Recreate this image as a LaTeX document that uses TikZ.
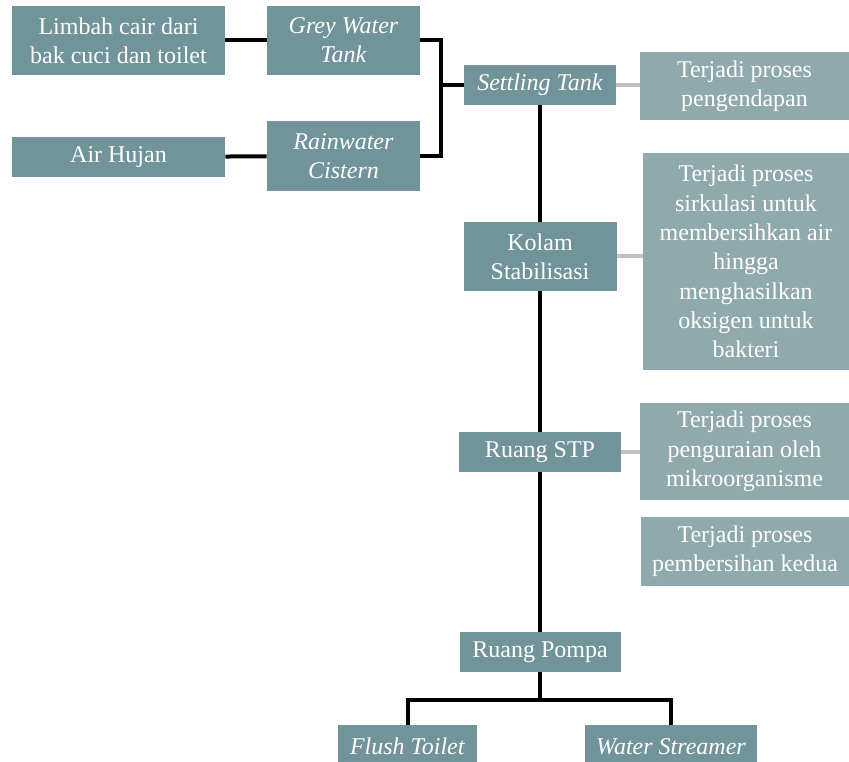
\documentclass[tikz,border=0pt]{standalone}
\usepackage{fontspec}
\setmainfont{Liberation Serif}
\usepackage{xcolor}
\usepackage{tikz}
\usetikzlibrary{positioning,calc}
\definecolor{boxteal}{HTML}{71939A}
\definecolor{noteteal}{HTML}{8FA9AD}
\definecolor{linkgrey}{HTML}{C0C0C0}

\begin{document}
\begin{tikzpicture}[x=0.75pt,y=-0.75pt,
  box/.style={fill=boxteal, text=white, inner sep=0pt, align=center, font=\fontsize{18}{22}\selectfont},
  note/.style={fill=noteteal, text=white, inner sep=0pt, align=center, font=\fontsize{18}{22}\selectfont},
  pipe/.style={line width=3pt, black},
  side/.style={line width=3pt, linkgrey}]
\useasboundingbox (0,0) rectangle (849,762);
% sumber air
\node[box, minimum width=159.75pt, minimum height=51.75pt] (limbah) at (118.5,40.5) {Limbah cair dari\\bak cuci dan toilet};
\node[box, minimum width=114.75pt, minimum height=51.75pt] (grey) at (343.5,40.5) {\textit{Grey Water}\\\textit{Tank}};
\node[box, minimum width=159.75pt, minimum height=30pt] (hujan) at (118.5,157) {Air Hujan};
\node[box, minimum width=114.75pt, minimum height=52.5pt] (rain) at (343.5,156) {\textit{Rainwater}\\\textit{Cistern}};
% jalur utama
\node[box, minimum width=114pt, minimum height=30pt] (settling) at (540,85) {\textit{Settling Tank}};
\node[box, minimum width=114.75pt, minimum height=51.75pt] (kolam) at (540,256.5) {Kolam\\Stabilisasi};
\node[box, minimum width=121.5pt, minimum height=30pt] (stp) at (540,452) {Ruang STP};
\node[box, minimum width=120.75pt, minimum height=30pt] (pompa) at (540,652) {Ruang Pompa};
\node[box, minimum width=104.25pt, minimum height=32.25pt] (flush) at (407.5,746.5) {\textit{Flush Toilet}};
\node[box, minimum width=129pt, minimum height=32.25pt] (streamer) at (671,746.5) {\textit{Water Streamer}};
% keterangan
\node[note, minimum width=156.75pt, minimum height=51pt] (ket1) at (744.5,86) {Terjadi proses\\pengendapan};
\node[note, minimum width=154.5pt, minimum height=162.75pt] (ket2) at (746,261.5) {Terjadi proses\\sirkulasi untuk\\membersihkan air\\hingga\\menghasilkan\\oksigen untuk\\bakteri};
\node[note, minimum width=156.75pt, minimum height=72.75pt] (ket3) at (744.5,451.5) {Terjadi proses\\penguraian oleh\\mikroorganisme};
\node[note, minimum width=156pt, minimum height=51.75pt] (ket4) at (745,551.5) {Terjadi proses\\pembersihan kedua};
\coordinate (join) at (441,85);
\coordinate (split) at (540,700);
\draw[pipe] (limbah) -- (grey);
\draw[pipe] (hujan) -- (rain);
\draw[pipe] (grey.east) -| (join);
\draw[pipe] (rain.east) -| (join);
\draw[pipe] (join) -- (settling);
\draw[pipe] (settling) -- (kolam);
\draw[pipe] (kolam) -- (stp);
\draw[pipe] (stp) -- (pompa);
\draw[pipe] (pompa) -- (split);
\draw[pipe] (split) -| (flush);
\draw[pipe] (split) -| (streamer);
\draw[side] (settling.east) -- (settling.east -| ket1.west);
\draw[side] (kolam.east) -- (kolam.east -| ket2.west);
\draw[side] (stp.east) -- (stp.east -| ket3.west);
\end{tikzpicture}
\end{document}
